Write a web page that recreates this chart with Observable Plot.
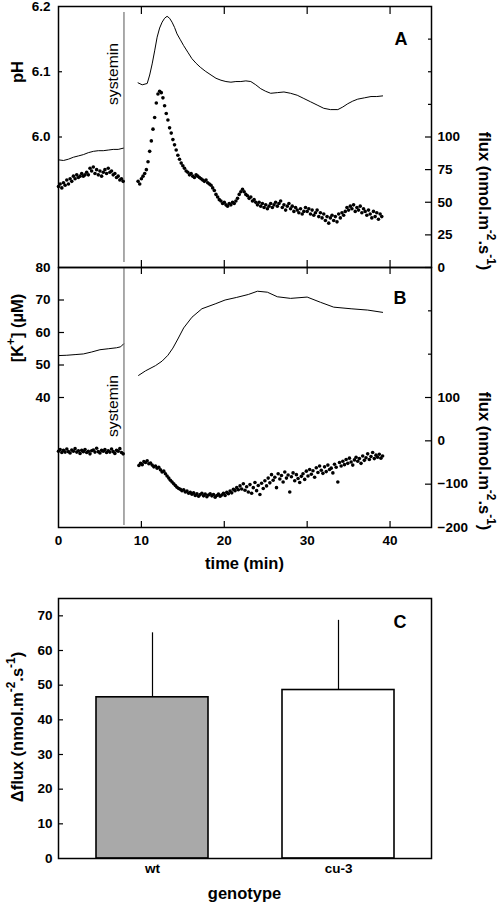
<!DOCTYPE html>
<html><head><meta charset="utf-8">
<script src="https://cdn.jsdelivr.net/npm/d3@7"></script>
<script src="https://cdn.jsdelivr.net/npm/@observablehq/plot@0.6"></script>
<style>
body{margin:0;background:#fff;}
#fig{position:relative;width:498px;height:904px;overflow:hidden;background:#fff;}
#fig svg{position:absolute;left:0;top:0;}
</style></head><body><div id="fig"></div><script>
// ---------- data ----------
const systeminTime = 7.9;
const sampleStep = 0.2;
// Panel A: pH (line)
const pH1Time = [0,0.6,1.2,1.8,2.4,3.0,3.6,4.2,4.8,5.4,6.0,6.6,7.2,7.85];
const pH1 = [5.965,5.964,5.966,5.969,5.971,5.973,5.976,5.978,5.979,5.979,5.980,5.981,5.981,5.983];
const pH2Time = [9.6,10.1,10.7,11.0,11.3,11.6,11.9,12.2,12.5,12.8,13.1,13.4,13.7,14.0,14.3,14.7,15.1,15.6,16.1,16.6,17.1,17.7,18.4,19.0,19.6,20.2,20.8,21.4,22.0,22.6,23.2,23.8,24.4,25.0,25.6,26.4,27.2,28.0,28.8,29.6,30.4,31.2,32.0,32.8,33.7,34.3,34.9,35.5,36.1,36.9,37.7,38.4,39.1];
const pH2 = [6.083,6.080,6.082,6.095,6.112,6.132,6.153,6.167,6.176,6.182,6.185,6.182,6.176,6.168,6.158,6.149,6.140,6.130,6.120,6.113,6.107,6.101,6.095,6.090,6.087,6.085,6.084,6.085,6.085,6.086,6.085,6.080,6.074,6.070,6.067,6.068,6.069,6.067,6.064,6.059,6.054,6.049,6.044,6.042,6.042,6.046,6.051,6.055,6.058,6.060,6.062,6.062,6.063];
// Panel A: H+ flux (dots)
const fluxA1Start = 0;
const fluxA1 = [62,64,61,65,63,67,64,68,66,70,68,71,69,70,72,70,71,73,71,76,74,77,72,75,71,74,70,73,75,72,76,73,74,71,72,69,70,67,68,66];
const fluxA2Start = 9.6;
const fluxA2 = [66,64,68,70,72,75,81,89,97,106,115,126,133,135,134,130,124,118,113,107,103,98,94,90,86,83,80,78,76,74,73,71,72,70,69,71,70,69,68,67,66,67,65,64,63,61,59,56,54,52,51,49,50,48,47,49,48,50,49,51,53,56,58,60,58,56,55,53,54,51,52,50,48,50,47,49,46,48,45,47,49,46,48,50,47,49,51,46,48,44,47,49,45,47,43,46,44,42,45,41,43,46,43,45,41,44,40,42,44,39,42,38,41,36,39,34,38,40,36,39,35,41,38,42,40,43,46,44,47,45,48,43,46,44,47,42,45,43,40,44,41,38,43,39,42,37,41,39];
// Panel B: [K+] (line)
const k1Time = [0,1,2,3,4,5,6,7,7.5,7.85];
const k1 = [52.9,53.0,53.2,53.4,54.0,54.7,55.0,55.3,55.6,56.5];
const k2Time = [9.66,10.5,11.7,12.5,13.2,13.8,14.4,15.1,16.1,17.3,18.9,20.1,21.5,22.9,24,25.2,26.4,28,30,31.6,33.2,35.3,37.3,39.1];
const k2 = [46.8,48.2,49.8,51.2,53.0,55.2,58.0,61.4,64.7,67.3,68.8,70,70.8,71.7,72.7,72.4,71,70.5,70.9,69.3,67.8,67.3,66.9,66.2];
// Panel B: K+ flux (dots)
const fluxB1Start = 0;
const fluxB1 = [-24,-20,-27,-22,-26,-19,-25,-28,-21,-24,-18,-26,-23,-29,-22,-25,-20,-27,-24,-30,-23,-21,-26,-17,-25,-28,-22,-24,-20,-27,-23,-26,-19,-25,-29,-22,-24,-18,-27,-30];
const fluxB2Start = 9.7;
const fluxB2 = [-57,-52,-55,-48,-50,-46,-53,-51,-56,-60,-58,-63,-61,-67,-72,-70,-76,-81,-86,-91,-95,-99,-103,-107,-110,-112,-115,-113,-118,-116,-121,-119,-123,-120,-126,-122,-128,-124,-121,-127,-123,-129,-125,-122,-127,-124,-130,-126,-123,-128,-125,-121,-126,-119,-122,-116,-120,-112,-115,-108,-113,-104,-111,-99,-114,-106,-118,-101,-121,-108,-96,-115,-103,-124,-98,-110,-92,-104,-86,-97,-78,-91,-84,-108,-76,-88,-80,-95,-72,-86,-79,-118,-83,-74,-92,-78,-87,-96,-82,-76,-89,-70,-81,-66,-77,-69,-84,-62,-73,-58,-68,-75,-60,-71,-56,-66,-63,-74,-54,-61,-95,-50,-58,-47,-55,-43,-52,-40,-49,-56,-44,-38,-47,-41,-52,-35,-45,-39,-30,-43,-36,-27,-41,-33,-38,-31,-40,-35];
// Panel C
const genotypes = ["wt","cu-3"];
const deltaFlux = [46.5,48.6];
const deltaFluxErr = [18.6,20.1];
const barFills = ["#a9a9a9","#ffffff"];
// ticks
const timeTicks = [0,10,20,30,40];
const pHTicks = [6.0,6.1,6.2];
const fluxATicks = [0,25,50,75,100];
const fluxAMinor = [125,150,175];
const kTicks = [40,50,60,70,80];
const fluxBTicks = [-200,-100,0,100];
const fluxBMinor = [200,300];
const cTicks = [0,10,20,30,40,50,60,70];

// ---------- tables ----------
const pHTable = [...pH1Time.map((t,i)=>({t,v:pH1[i],s:1})), ...pH2Time.map((t,i)=>({t,v:pH2[i],s:2}))];
const kTable = [...k1Time.map((t,i)=>({t,v:k1[i],s:1})), ...k2Time.map((t,i)=>({t,v:k2[i],s:2}))];
const series = (start, arr) => arr.map((v,i)=>({t:start+i*sampleStep, v}));
const fluxATable = [...series(fluxA1Start, fluxA1), ...series(fluxA2Start, fluxA2)];
const fluxBTable = [...series(fluxB1Start, fluxB1), ...series(fluxB2Start, fluxB2)];
const cTable = genotypes.map((g,i)=>({g, v:deltaFlux[i], e:deltaFluxErr[i], f:barFills[i]}));

// ---------- layout ----------
const W = 498, H = 904, ML = 58, MR = 67;
const PW = W - ML - MR;
const FONT = "'Liberation Sans', Arial, Helvetica, sans-serif";
const fig = document.getElementById("fig");
const A = {top: 6, bottom: 267};
const B = {top: 267, bottom: 527};
const C = {top: 598, bottom: 858};
const style = {fontFamily: FONT, fontSize: "13px", fontWeight: "bold", background: "transparent", overflow: "visible", color: "black"};
const TS = 13.5; // tick label size
const TT = 16.5; // title size

function layer(panel, yOpts, xOpts, marks) {
  const svg = Plot.plot({
    width: W, height: H, marginLeft: ML, marginRight: MR,
    marginTop: panel.top, marginBottom: H - panel.bottom,
    style, x: xOpts, y: yOpts, marks
  });
  fig.appendChild(svg);
  return svg;
}
const ph = p => p.bottom - p.top;
const leftTicks = (vals, len) => Plot.tickY(vals, {insetRight: PW - len, strokeWidth: 1.2});
const rightTicks = (vals, len) => Plot.tickY(vals, {insetLeft: PW - len, strokeWidth: 1.2});
const topTicks = (vals, p, len) => Plot.tickX(vals, {insetBottom: ph(p) - len, strokeWidth: 1.2});
const botTicks = (vals, p, len) => Plot.tickX(vals, {insetTop: ph(p) - len, strokeWidth: 1.2});
const xTime = {domain: [0, 45], axis: null};

function addText(svg, {x, y, rotate = 0, size = TT, weight = "bold", anchor = "middle", parts, textLength}) {
  const t = d3.select(svg).append("text")
    .attr("transform", `translate(${x},${y}) rotate(${rotate})`)
    .attr("text-anchor", anchor).attr("font-size", size).attr("font-weight", weight)
    .attr("font-family", FONT).attr("fill", "black").attr("dominant-baseline", "central");
  if (textLength) t.attr("textLength", textLength).attr("lengthAdjust", "spacingAndGlyphs");
  let shift = 0;
  for (const [s, sup] of parts) {
    const target = sup ? -6 : 0;
    t.append("tspan").attr("dy", target - shift).attr("font-size", sup ? size * 0.72 : size).text(s);
    shift = target;
  }
  return t;
}

// ---- Panel A: pH ----
const a1 = layer(A, {domain: [5.8, 6.2]}, xTime, [
  Plot.line(pHTable, {x: "t", y: "v", z: "s", stroke: "black", strokeWidth: 1}),
  Plot.ruleX([systeminTime], {stroke: "#555", strokeWidth: 1, insetTop: 6, insetBottom: 5}),
  leftTicks([6.0, 6.1], 4),
  topTicks(timeTicks.slice(1), A, 8),
  botTicks(timeTicks.slice(1), A, 7),
  Plot.axisY(pHTicks, {anchor: "left", tickSize: 0, tickPadding: 8, fontSize: TS, tickFormat: d => d.toFixed(1), label: null}),
  Plot.frame({strokeWidth: 1.5})
]);
// ---- Panel A: flux ----
const a2 = layer(A, {domain: [0, 200]}, xTime, [
  Plot.dot(fluxATable, {x: "t", y: "v", r: 1.8, fill: "black", stroke: "none"}),
  rightTicks(fluxATicks, 6),
  rightTicks(fluxAMinor, 3),
  Plot.axisY(fluxATicks, {anchor: "right", tickSize: 0, tickPadding: 6, fontSize: TS, label: null})
]);
addText(a1, {x: 17, y: 72, rotate: -90, parts: [["pH"]]});
addText(a1, {x: 113, y: 74, rotate: -90, size: 14, weight: "normal", parts: [["systemin"]], textLength: 62});
addText(a1, {x: 401, y: 39, size: 18, parts: [["A"]]});
addText(a2, {x: 485, y: 201, rotate: 90, parts: [["flux (nmol.m"], ["-2", true], [".s"], ["-1", true], [")"]]});

// ---- Panel B: [K+] ----
const b1 = layer(B, {domain: [0, 80]}, {domain: [0, 45]}, [
  Plot.line(kTable, {x: "t", y: "v", z: "s", stroke: "black", strokeWidth: 1}),
  Plot.ruleX([systeminTime], {stroke: "#555", strokeWidth: 1, insetTop: 0, insetBottom: 2}),
  leftTicks([40, 50, 60, 70], 6),
  topTicks(timeTicks.slice(1), B, 7),
  botTicks(timeTicks.slice(1), B, 6),
  Plot.axisY(kTicks, {anchor: "left", tickSize: 0, tickPadding: 8, fontSize: TS, label: null}),
  Plot.axisX(timeTicks, {anchor: "bottom", tickSize: 0, tickPadding: 8, fontSize: TS, label: null}),
  Plot.frame({strokeWidth: 1.5})
]);
const b2 = layer(B, {domain: [-200, 400]}, xTime, [
  Plot.dot(fluxBTable, {x: "t", y: "v", r: 1.8, fill: "black", stroke: "none"}),
  rightTicks([-100, 0, 100], 6),
  rightTicks(fluxBMinor, 3),
  Plot.axisY(fluxBTicks, {anchor: "right", tickSize: 0, tickPadding: 6, fontSize: TS, label: null})
]);
addText(b1, {x: 17, y: 328, rotate: -90, parts: [["[K"], ["+", true], ["] (\u00b5M)"]]});
addText(b1, {x: 113, y: 406, rotate: -90, size: 14, weight: "normal", parts: [["systemin"]], textLength: 62});
addText(b1, {x: 400, y: 298, size: 18, parts: [["B"]]});
addText(b1, {x: 244.5, y: 563, parts: [["time (min)"]]});
addText(b2, {x: 485, y: 461, rotate: 90, parts: [["flux (nmol.m"], ["-2", true], [".s"], ["-1", true], [")"]]});

// ---- Panel C ----
const c1 = layer(C, {domain: [0, 75]}, {domain: genotypes, type: "band", paddingInner: 0.4, paddingOuter: 0.2}, [
  Plot.barY(cTable, {x: "g", y: "v", fill: "f", stroke: "black", strokeWidth: 1.6}),
  Plot.ruleX(cTable, {x: "g", y1: "v", y2: d => d.v + d.e, stroke: "black", strokeWidth: 1.2}),
  leftTicks(cTicks.slice(1), 5),
  Plot.axisY(cTicks, {anchor: "left", tickSize: 0, tickPadding: 6, fontSize: TS, label: null}),
  Plot.axisX(genotypes, {anchor: "bottom", tickSize: 0, tickPadding: 5, fontSize: TS, label: null}),
  Plot.frame({strokeWidth: 1.5})
]);
addText(c1, {x: 400, y: 622, size: 18, parts: [["C"]]});
addText(c1, {x: 244.5, y: 893, parts: [["genotype"]]});
addText(c1, {x: 17, y: 727, rotate: -90, parts: [["\u0394flux (nmol.m"], ["-2", true], [".s"], ["-1", true], [")"]]});
</script></body></html>
